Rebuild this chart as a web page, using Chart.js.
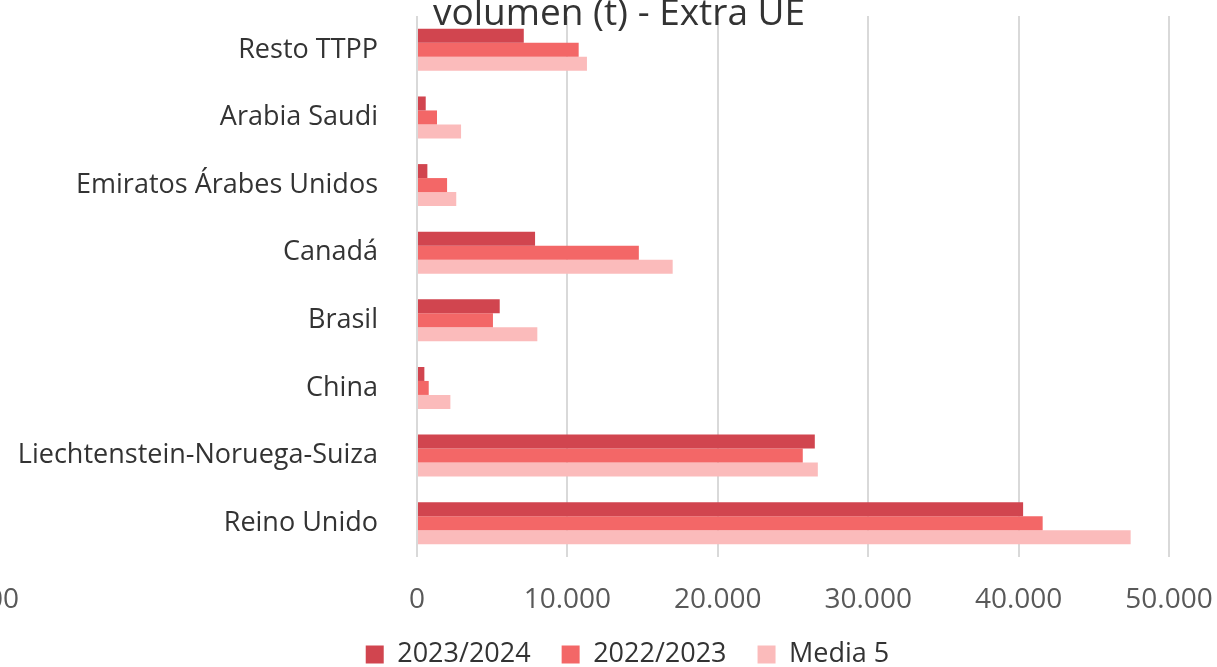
<!DOCTYPE html>
<html>
<head>
<meta charset="utf-8">
<script src="https://cdn.jsdelivr.net/npm/chart.js@4"></script>
<style>
  html, body { margin: 0; padding: 0; background: #fff; }
  #wrap { width: 1217px; height: 667px; position: relative; }
</style>
</head>
<body>
<div id="wrap"><canvas id="chart"></canvas></div>
<script>
// --- Data ---
const countries = ['Resto TTPP', 'Arabia Saudi', 'Emiratos Árabes Unidos', 'Canadá', 'Brasil', 'China', 'Liechtenstein-Noruega-Suiza', 'Reino Unido'];
const s2324 = [7100, 580, 690, 7850, 5500, 490, 26450, 40300];
const s2223 = [10750, 1330, 2000, 14750, 5050, 780, 25650, 41600];
const media5 = [11300, 2930, 2610, 17000, 8000, 2220, 26650, 47450];
const seriesNames = ['2023/2024', '2022/2023', 'Media 5'];
const xTicks = [0, 10000, 20000, 30000, 40000, 50000];

const FONT = "'Open Sans', 'Noto Sans', sans-serif";

function fmt(v) {
  return v.toString().replace(/\B(?=(\d{3})+(?!\d))/g, '.');
}

// title (cut off at the top), stray tick from the neighbouring chart,
// and legend placement tweaks
const extras = {
  id: 'extras',
  beforeLayout(chart) {
    const lg = chart.legend;
    if (lg && !lg._patched) {
      const fit = lg.fit.bind(lg);
      lg.fit = function () { fit(); this.height = 57; };
      lg._patched = true;
    }
  },
  afterLayout(chart) {
    const lg = chart.legend;
    if (lg) { lg.left += 43; lg.right += 43; }
  },
  afterDraw(chart) {
    const ctx = chart.ctx;
    ctx.save();
    ctx.fillStyle = '#333';
    ctx.font = "37px " + FONT;
    ctx.textAlign = 'center';
    ctx.textBaseline = 'alphabetic';
    ctx.fillText('volumen (t) - Extra UE', 619, 25);
    ctx.fillStyle = '#595959';
    ctx.font = "28px " + FONT;
    ctx.textAlign = 'right';
    ctx.textBaseline = 'middle';
    ctx.fillText('000', 19, 600);
    ctx.restore();
  }
};

new Chart(document.getElementById('chart'), {
  type: 'bar',
  data: {
    labels: countries,
    datasets: [
      { label: seriesNames[0], data: s2324, backgroundColor: '#D1454F' },
      { label: seriesNames[1], data: s2223, backgroundColor: '#F36767' },
      { label: seriesNames[2], data: media5, backgroundColor: '#FBBBBB' }
    ]
  },
  options: {
    indexAxis: 'y',
    responsive: true,
    maintainAspectRatio: false,
    animation: false,
    datasets: {
      bar: { categoryPercentage: 0.62, barPercentage: 1.0 }
    },
    layout: { padding: { top: 16, right: 48, left: 0, bottom: 0 } },
    plugins: {
      title: { display: false },
      tooltip: { enabled: false },
      legend: {
        position: 'bottom',
        labels: {
          font: { family: FONT, size: 27 },
          color: '#333',
          boxWidth: 18,
          boxHeight: 18,
          padding: 31
        }
      }
    },
    scales: {
      x: {
        min: 0,
        max: 50000,
        afterBuildTicks(scale) {
          scale.ticks = xTicks.map(v => ({ value: v }));
        },
        afterFit(scale) {
          scale.height = 53;
          scale.paddingLeft = 0;
          scale.paddingRight = 0;
        },
        grid: { color: '#D9D9D9', lineWidth: 2, drawTicks: false },
        border: { display: false },
        ticks: {
          font: { family: FONT, size: 28 },
          color: '#595959',
          padding: 26,
          maxRotation: 0,
          callback: v => fmt(v)
        }
      },
      y: {
        afterFit(scale) {
          scale.width = 417;
          scale.paddingTop = 0;
          scale.paddingBottom = 0;
        },
        grid: { display: false },
        border: { display: false },
        ticks: {
          font: { family: FONT, size: 27 },
          color: '#333',
          padding: 31
        }
      }
    }
  },
  plugins: [extras]
});
</script>
</body>
</html>
